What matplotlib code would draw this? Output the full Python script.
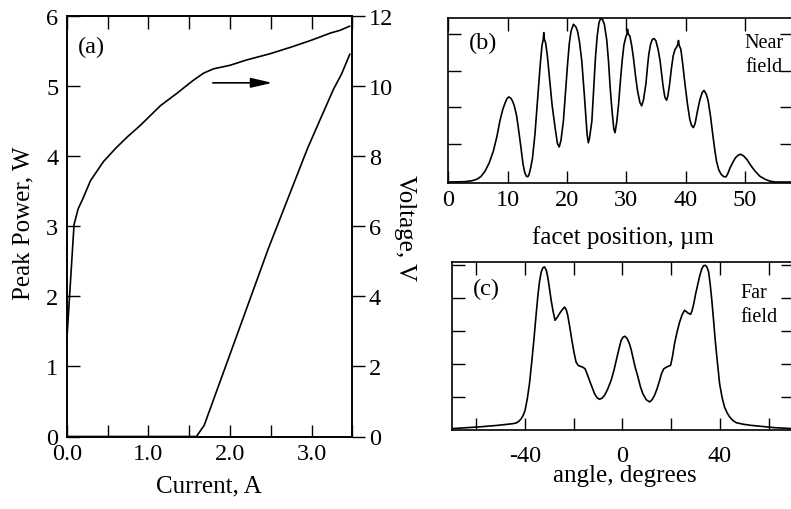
import matplotlib
matplotlib.use("Agg")
import matplotlib.pyplot as plt
from matplotlib.ticker import MultipleLocator, FixedLocator, NullFormatter, FormatStrFormatter

plt.rcParams['font.family'] = ['Liberation Serif', 'DejaVu Serif']
plt.rcParams['axes.unicode_minus'] = False

# ---- Panel (a): power and voltage vs current ----
current_p = [0.0, 0.6, 1.0, 1.2, 1.55, 1.59, 1.685, 2.0, 2.47, 2.95, 3.1, 3.27, 3.37, 3.47]
power_w = [0.0, 0.0, 0.0, 0.0, 0.0, 0.0, 0.16, 1.17, 2.68, 4.11, 4.51, 4.96, 5.18, 5.46]

current_v = [0.0, 0.09, 0.14, 0.2, 0.29, 0.45, 0.6, 0.74, 0.9, 1.15, 1.35, 1.55, 1.68,
             1.8, 2.0, 2.2, 2.49, 2.75, 2.99, 3.23, 3.35, 3.47]
voltage_v = [2.7, 6.05, 6.5, 6.8, 7.3, 7.85, 8.23, 8.55, 8.88, 9.45, 9.8, 10.17, 10.38,
             10.5, 10.6, 10.75, 10.93, 11.12, 11.31, 11.52, 11.6, 11.72]

# ---- Panel (b): near field ----
near_x = [0.0, 2.8, 4.0, 4.8, 5.5, 6.2, 6.9, 7.6, 8.2, 8.7, 9.2, 9.6, 9.9, 10.2, 10.5, 10.8,
          11.1, 11.5, 11.8, 12.2, 12.6, 12.9, 13.2, 13.4, 13.6, 13.9, 14.2, 14.6, 14.9, 15.2,
          15.5, 15.8, 16.0, 16.1, 16.2, 16.4, 16.7, 17.1, 17.5, 18.0, 18.4, 18.7, 19.0, 19.4,
          19.8, 20.1, 20.4, 20.7, 21.1, 21.5, 21.8, 22.1, 22.5, 22.9, 23.2, 23.4, 23.6, 23.8,
          24.2, 24.5, 24.8, 25.1, 25.4, 25.7, 26.0, 26.3, 26.7, 27.0, 27.3, 27.6, 27.9, 28.1,
          28.4, 28.7, 29.0, 29.3, 29.6, 29.9, 30.1, 30.2, 30.35, 30.6, 30.9, 31.2, 31.6, 31.9,
          32.3, 32.6, 32.9, 33.3, 33.6, 33.8, 34.1, 34.4, 34.7, 35.0, 35.4, 35.7, 36.0, 36.2,
          36.5, 36.8, 37.0, 37.3, 37.6, 37.9, 38.2, 38.5, 38.7, 38.8, 38.9, 39.2, 39.5, 39.9,
          40.3, 40.7, 41.0, 41.3, 41.6, 42.0, 42.4, 42.8, 43.1, 43.5, 43.8, 44.2, 44.5, 44.9,
          45.2, 45.6, 46.0, 46.4, 46.8, 47.1, 47.5, 48.0, 48.4, 48.9, 49.3, 49.8, 50.3, 51.0,
          51.7, 52.5, 53.4, 54.2, 55.1, 58.0]
near_y = [-0.01, -0.008, -0.003, 0.005, 0.02, 0.05, 0.095, 0.16, 0.24, 0.325, 0.39, 0.425,
          0.447, 0.456, 0.45, 0.435, 0.41, 0.355, 0.288, 0.19, 0.087, 0.04, 0.02, 0.019, 0.03,
          0.07, 0.123, 0.25, 0.379, 0.51, 0.635, 0.74, 0.77, 0.808, 0.77, 0.753, 0.68, 0.544,
          0.41, 0.288, 0.2, 0.182, 0.22, 0.324, 0.5, 0.635, 0.75, 0.818, 0.854, 0.84, 0.814,
          0.76, 0.653, 0.48, 0.342, 0.25, 0.205, 0.23, 0.324, 0.5, 0.671, 0.79, 0.863, 0.887,
          0.88, 0.854, 0.77, 0.653, 0.5, 0.379, 0.28, 0.26, 0.32, 0.416, 0.54, 0.653, 0.74,
          0.781, 0.8, 0.827, 0.8, 0.79, 0.74, 0.671, 0.56, 0.489, 0.425, 0.407, 0.44, 0.525,
          0.63, 0.69, 0.745, 0.772, 0.775, 0.763, 0.71, 0.653, 0.57, 0.516, 0.455, 0.438,
          0.46, 0.525, 0.61, 0.68, 0.715, 0.73, 0.745, 0.765, 0.74, 0.717, 0.64, 0.525, 0.42,
          0.334, 0.3, 0.288, 0.31, 0.379, 0.44, 0.48, 0.492, 0.47, 0.434, 0.35, 0.27, 0.17,
          0.105, 0.055, 0.032, 0.02, 0.018, 0.035, 0.068, 0.1, 0.123, 0.138, 0.142, 0.132,
          0.115, 0.08, 0.05, 0.022, 0.005, -0.005, -0.01, -0.01]

# ---- Panel (c): far field ----
far_x = [-70.2, -59.3, -51.1, -45.0, -43.6, -42.4, -41.5, -40.7, -39.9, -39.0, -38.1, -37.2,
         -36.3, -35.5, -34.7, -34.0, -33.3, -32.6, -31.9, -31.2, -30.6, -29.9, -29.2, -28.4,
         -27.6, -26.7, -25.8, -24.7, -23.7, -23.0, -22.4, -21.5, -20.7, -19.8, -19.0, -18.1,
         -17.2, -16.2, -15.3, -14.4, -13.5, -12.4, -11.4, -10.4, -9.4, -8.3, -7.3, -6.0,
         -4.6, -3.5, -2.5, -1.2, -0.5, 0.3, 1.1, 2.0, 2.9, 3.6, 4.3, 5.3, 6.4, 7.4, 8.4, 9.8,
         11.2, 12.2, 13.2, 14.2, 15.3, 16.1, 17.0, 18.4, 19.8, 20.6, 21.4, 22.5, 23.5, 24.5,
         25.5, 26.2, 26.9, 28.0, 28.6, 29.3, 30.1, 31.0, 31.8, 32.6, 33.3, 34.0, 34.7, 35.4,
         36.0, 36.7, 37.4, 38.1, 39.0, 39.9, 40.9, 41.9, 43.0, 44.0, 45.3, 46.7, 49.5, 52.8,
         62.4, 70.0]
far_y = [0.01, 0.02, 0.03, 0.04, 0.044, 0.055, 0.07, 0.09, 0.121, 0.19, 0.282, 0.41, 0.545,
         0.68, 0.808, 0.9, 0.959, 0.985, 0.99, 0.97, 0.929, 0.86, 0.788, 0.72, 0.667, 0.685,
         0.707, 0.73, 0.747, 0.73, 0.697, 0.62, 0.545, 0.47, 0.414, 0.393, 0.388, 0.382,
         0.373, 0.34, 0.303, 0.26, 0.222, 0.198, 0.188, 0.195, 0.212, 0.25, 0.303, 0.36,
         0.424, 0.505, 0.545, 0.565, 0.57, 0.555, 0.525, 0.49, 0.444, 0.38, 0.323, 0.265,
         0.222, 0.185, 0.172, 0.185, 0.212, 0.25, 0.303, 0.345, 0.373, 0.385, 0.394, 0.45,
         0.525, 0.6, 0.656, 0.7, 0.727, 0.72, 0.711, 0.703, 0.725, 0.767, 0.83, 0.888, 0.94,
         0.979, 0.997, 1.0, 0.99, 0.959, 0.89, 0.788, 0.67, 0.545, 0.41, 0.282, 0.2, 0.141,
         0.105, 0.081, 0.06, 0.046, 0.037, 0.03, 0.016, 0.01]

W, H = 791, 510
fig = plt.figure(figsize=(W / 100, H / 100), dpi=100)


def rect(l, r, t, b):
    return [l / W, 1 - b / H, (r - l) / W, (b - t) / H]


TICK_FS = 17.5
LABEL_FS = 18
LW = 1.2
TL = 9

line_kw = dict(color='black', lw=LW, solid_joinstyle='round', solid_capstyle='round')

# Panel (a)
ax = fig.add_axes(rect(66.7, 352.3, 17.3, 437.5))
ax.plot(current_p, power_w, **line_kw)
ax.set_xlim(0, 3.5)
ax.set_ylim(0, 6)
ax.xaxis.set_major_locator(MultipleLocator(1.0))
ax.xaxis.set_minor_locator(MultipleLocator(0.5))
ax.xaxis.set_major_formatter(FormatStrFormatter('%.1f'))
ax.yaxis.set_major_locator(MultipleLocator(1))
ax.tick_params(axis='x', which='both', direction='in', top=True, bottom=True, length=TL,
               width=1, labelsize=TICK_FS, pad=5)
ax.tick_params(axis='y', which='both', direction='in', left=True, right=False, length=TL,
               width=1, labelsize=TICK_FS, pad=6)
for s in ax.spines.values():
    s.set_linewidth(LW)

ax2 = ax.twinx()
ax2.plot(current_v, voltage_v, **line_kw)
ax2.set_ylim(0, 12)
ax2.yaxis.set_major_locator(MultipleLocator(2))
ax2.tick_params(axis='y', direction='out', length=TL, width=1, labelsize=TICK_FS, pad=3)
for s in ax2.spines.values():
    s.set_linewidth(LW)

ax.annotate('', xy=(2.52, 5.05), xytext=(1.79, 5.05),
            arrowprops=dict(arrowstyle='-|>,head_length=1.3,head_width=0.3',
                            mutation_scale=10, lw=LW, color='black',
                            shrinkA=0, shrinkB=0))
ax.text(0.085, 0.928, '(a)', transform=ax.transAxes, ha='center', va='center', fontsize=17.5)

fig.text(23.4 / W, 1 - 223.3 / H, 'Peak Power, W', rotation=90, ha='center', va='center',
         fontsize=LABEL_FS)
fig.text(405 / W, 1 - 228.3 / H, 'Voltage, V', rotation=270, ha='center', va='center',
         fontsize=LABEL_FS)
fig.text(209 / W, 1 - 486 / H, 'Current, A', ha='center', va='center', fontsize=LABEL_FS)

# Panel (b)
bx = fig.add_axes(rect(448.3, 792.4, 18.7, 184.3))
bx.plot(near_x, near_y, **line_kw)
bx.set_xlim(0, 58)
bx.set_ylim(-0.017, 0.89)
bx.xaxis.set_major_locator(MultipleLocator(10))
bx.yaxis.set_major_locator(FixedLocator([0.2, 0.4, 0.6, 0.8]))
bx.yaxis.set_major_formatter(NullFormatter())
bx.tick_params(axis='both', which='both', direction='in', top=True, right=True, length=TL,
               width=1, labelsize=TICK_FS)
bx.tick_params(axis='x', pad=4)
for s in bx.spines.values():
    s.set_linewidth(LW)
bx.text(0.101, 0.85, '(b)', transform=bx.transAxes, ha='center', va='center', fontsize=17.5)
bx.text(0.862, 0.823, 'Near', transform=bx.transAxes, ha='left', va='baseline', fontsize=14.5)
bx.text(0.862, 0.678, 'field', transform=bx.transAxes, ha='left', va='baseline', fontsize=14.5)
fig.text(623 / W, 1 - 238 / H, 'facet position, \u00b5m', ha='center', va='center',
         fontsize=LABEL_FS)

# Panel (c)
cx = fig.add_axes(rect(451.7, 793.0, 263.0, 431.3))
cx.plot(far_x, far_y, **line_kw)
cx.set_xlim(-70, 70)
cx.set_ylim(0, 1.02)
cx.xaxis.set_major_locator(FixedLocator([-40, 0, 40]))
cx.xaxis.set_minor_locator(FixedLocator([-60, -20, 20, 60]))
cx.yaxis.set_major_locator(FixedLocator([0.2, 0.4, 0.6, 0.8, 1.0]))
cx.yaxis.set_major_formatter(NullFormatter())
cx.tick_params(axis='both', which='both', direction='in', top=True, right=True, length=TL,
               width=1, labelsize=TICK_FS)
cx.tick_params(axis='x', pad=10.5)
for s in cx.spines.values():
    s.set_linewidth(LW)
cx.text(0.103, 0.84, '(c)', transform=cx.transAxes, ha='center', va='center', fontsize=17.5)
cx.text(0.845, 0.792, 'Far', transform=cx.transAxes, ha='left', va='baseline', fontsize=14.5)
cx.text(0.845, 0.649, 'field', transform=cx.transAxes, ha='left', va='baseline', fontsize=14.5)
fig.text(625 / W, 1 - 476 / H, 'angle, degrees', ha='center', va='center',
         fontsize=LABEL_FS)

fig.savefig('out.png', dpi=100)
